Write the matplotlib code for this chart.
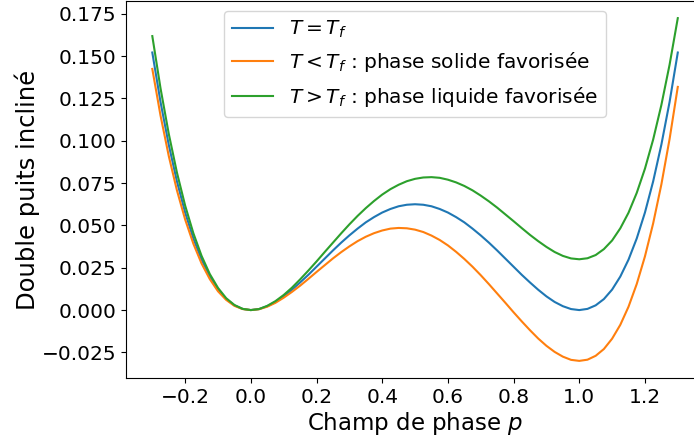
import matplotlib
matplotlib.use("Agg")
import matplotlib.pyplot as plt

# champ de phase p
p = [-0.300, -0.275, -0.250, -0.225, -0.200, -0.175, -0.150, -0.125, -0.100, -0.075,
     -0.050, -0.025, 0.000, 0.025, 0.050, 0.075, 0.100, 0.125, 0.150, 0.175,
     0.200, 0.225, 0.250, 0.275, 0.300, 0.325, 0.350, 0.375, 0.400, 0.425,
     0.450, 0.475, 0.500, 0.525, 0.550, 0.575, 0.600, 0.625, 0.650, 0.675,
     0.700, 0.725, 0.750, 0.775, 0.800, 0.825, 0.850, 0.875, 0.900, 0.925,
     0.950, 0.975, 1.000, 1.025, 1.050, 1.075, 1.100, 1.125, 1.150, 1.175,
     1.200, 1.225, 1.250, 1.275, 1.300]

# T = Tf
f_eq = [0.1521, 0.1229, 0.0977, 0.0760, 0.0576, 0.0423, 0.0298, 0.0198, 0.0121, 0.0065,
        0.0028, 0.0007, 0.0, 0.0006, 0.0023, 0.0048, 0.0081, 0.0120, 0.0163, 0.0208,
        0.0256, 0.0304, 0.0352, 0.0398, 0.0441, 0.0481, 0.0518, 0.0549, 0.0576, 0.0597,
        0.0613, 0.0622, 0.0625, 0.0622, 0.0613, 0.0597, 0.0576, 0.0549, 0.0518, 0.0481,
        0.0441, 0.0398, 0.0352, 0.0304, 0.0256, 0.0208, 0.0163, 0.0120, 0.0081, 0.0048,
        0.0023, 0.0006, 0.0, 0.0007, 0.0028, 0.0065, 0.0121, 0.0198, 0.0298, 0.0423,
        0.0576, 0.0760, 0.0977, 0.1229, 0.1521]

# T < Tf
f_sol = [0.1424, 0.1149, 0.0911, 0.0707, 0.0535, 0.0392, 0.0275, 0.0183, 0.0111, 0.0060,
         0.0025, 0.0006, 0.0, 0.0005, 0.0020, 0.0043, 0.0073, 0.0107, 0.0144, 0.0184,
         0.0225, 0.0265, 0.0305, 0.0342, 0.0376, 0.0407, 0.0433, 0.0454, 0.0470, 0.0481,
         0.0485, 0.0483, 0.0475, 0.0461, 0.0440, 0.0414, 0.0382, 0.0344, 0.0302, 0.0256,
         0.0206, 0.0153, 0.0098, 0.0043, -0.0013, -0.0067, -0.0119, -0.0168, -0.0211, -0.0247,
         -0.0275, -0.0294, -0.0300, -0.0293, -0.0270, -0.0230, -0.0169, -0.0087, 0.0020, 0.0154,
         0.0317, 0.0512, 0.0742, 0.1010, 0.1318]

# T > Tf
f_liq = [0.1618, 0.1310, 0.1042, 0.0812, 0.0617, 0.0454, 0.0320, 0.0213, 0.0131, 0.0070,
         0.0030, 0.0007, 0.0, 0.0006, 0.0025, 0.0053, 0.0089, 0.0132, 0.0181, 0.0233,
         0.0287, 0.0343, 0.0398, 0.0453, 0.0506, 0.0556, 0.0602, 0.0644, 0.0682, 0.0714,
         0.0740, 0.0761, 0.0775, 0.0783, 0.0785, 0.0781, 0.0770, 0.0754, 0.0733, 0.0707,
         0.0676, 0.0642, 0.0605, 0.0565, 0.0525, 0.0484, 0.0444, 0.0407, 0.0373, 0.0343,
         0.0320, 0.0305, 0.0300, 0.0306, 0.0325, 0.0360, 0.0411, 0.0483, 0.0575, 0.0692,
         0.0835, 0.1007, 0.1211, 0.1449, 0.1724]

fig = plt.figure(figsize=(6.94, 4.36), dpi=100)
# la figure d'origine est rognée à droite : l'axe dépasse du cadre
ax = fig.add_axes([0.1816, 0.133, 0.8329, 0.8647])

ax.plot(p, f_eq, label=r"$T = T_f$")
ax.plot(p, f_sol, label=r"$T < T_f$ : phase solide favorisée")
ax.plot(p, f_liq, label=r"$T > T_f$ : phase liquide favorisée")

ax.tick_params(labelsize=14.5)
ax.set_xlabel(r"Champ de phase $p$", fontsize=16.5, labelpad=2)
ax.set_ylabel("Double puits incliné", fontsize=17.5, labelpad=1)
ax.legend(loc="upper center", fontsize=14.5)

fig.savefig("out.png", dpi=100)
